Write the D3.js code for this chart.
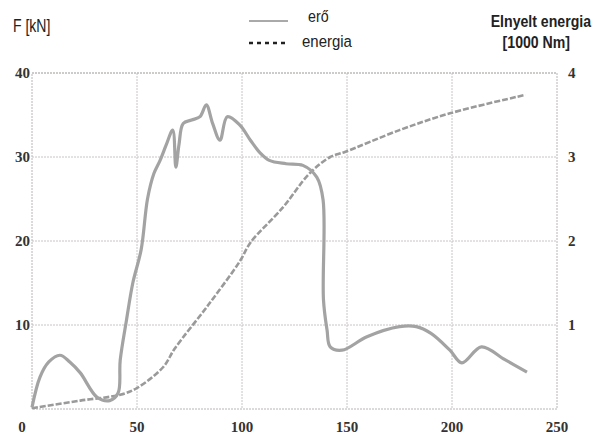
<!DOCTYPE html>
<html>
<head>
<meta charset="utf-8">
<script src="https://cdn.jsdelivr.net/npm/d3@7"></script>
<style>
  body { margin: 0; background: #fff; }
  svg { display: block; }
  .tick { font-family: "Liberation Serif", "DejaVu Serif", serif; font-weight: bold; font-size: 15px; fill: #333; }
  .lbl { font-family: "Liberation Sans", Arial, sans-serif; fill: #222; }
</style>
</head>
<body>
<svg id="chart" width="602" height="439"></svg>
<script>
// force curve (mm, F kN)
const forceX = [0, 3.8, 8, 13.3, 18, 23, 31, 37, 41, 42, 45, 48, 52, 55, 58, 61, 64, 67, 68.5, 70, 72, 76, 80, 83, 86, 89.5, 93, 99, 104, 108.6, 113, 121, 129, 135.6, 138.6, 138.8, 140.5, 142, 147.6, 159.5, 175, 183, 190, 199, 204.7, 214, 225, 235.7];
const forceY = [0.2, 3.8, 5.6, 6.4, 5.6, 4.3, 1.4, 1.0, 1.9, 5.8, 10.6, 15, 19, 25, 28, 29.6, 31.5, 33.2, 28.8, 31.5, 34, 34.4, 34.8, 36.2, 34, 32, 34.8, 33.8, 32, 30.5, 29.6, 29.2, 29, 27.6, 24.9, 13, 9.4, 7.4, 7, 8.6, 9.8, 9.8, 9, 7, 5.5, 7.4, 5.9, 4.4];

// energy curve (1000 Nm)
const energyX = [0, 23, 42, 50, 62.5, 68, 84, 99, 104, 119.5, 132, 142, 149, 175, 199, 235];
const energyY = [0.01, 0.1, 0.17, 0.25, 0.5, 0.72, 1.24, 1.76, 1.98, 2.4, 2.8, 3.0, 3.06, 3.32, 3.52, 3.74];

const xTicks = [0, 50, 100, 150, 200, 250];
const leftTicks = [10, 20, 30, 40];
const rightTicks = [1, 2, 3, 4];

const svg = d3.select("#chart");
const x = d3.scaleLinear().domain([0, 250]).range([32, 557]);
const yF = d3.scaleLinear().domain([0, 40]).range([409, 73]);
const yE = d3.scaleLinear().domain([0, 4]).range([409, 73]);

// grid
const grid = svg.append("g").attr("stroke", "#c8c4c4").attr("stroke-width", 1)
    .attr("stroke-dasharray", "2,1");
grid.selectAll("line.v")
    .data(xTicks.slice(1, -1))
    .join("line")
    .attr("x1", d => x(d)).attr("x2", d => x(d))
    .attr("y1", yF(40)).attr("y2", yF(0));
grid.selectAll("line.h")
    .data(leftTicks)
    .join("line")
    .attr("class", "h")
    .attr("x1", x(0)).attr("x2", x(250))
    .attr("y1", d => yF(d)).attr("y2", d => yF(d));

// frame
svg.append("rect")
    .attr("x", x(0)).attr("y", yF(40))
    .attr("width", x(250) - x(0)).attr("height", yF(0) - yF(40))
    .attr("fill", "none").attr("stroke", "#b8b4b4").attr("stroke-dasharray", "2,1");

// curves
const line = d3.line().curve(d3.curveCatmullRom.alpha(0.5));

svg.append("path")
    .attr("d", line(energyX.map((d, i) => [x(d), yE(energyY[i])])))
    .attr("fill", "none")
    .attr("stroke", "#9a9a9a")
    .attr("stroke-width", 2.6)
    .attr("stroke-dasharray", "6,2");

svg.append("path")
    .attr("d", line(forceX.map((d, i) => [x(d), yF(forceY[i])])))
    .attr("fill", "none")
    .attr("stroke", "#a3a3a3")
    .attr("stroke-width", 3.2)
    .attr("stroke-linejoin", "round");

// tick labels
svg.append("g").selectAll("text")
    .data(xTicks)
    .join("text")
    .attr("class", "tick")
    .attr("x", d => x(d)).attr("y", 432)
    .attr("dx", (d, i) => i === 0 ? -10 : 0)
    .attr("text-anchor", "middle")
    .text(d => d);

svg.append("g").selectAll("text")
    .data(leftTicks)
    .join("text")
    .attr("class", "tick")
    .attr("x", 30).attr("y", d => yF(d) + 5)
    .attr("text-anchor", "end")
    .text(d => d);

svg.append("g").selectAll("text")
    .data(rightTicks)
    .join("text")
    .attr("class", "tick")
    .attr("x", 568).attr("y", d => yE(d) + 5)
    .text(d => d);

// narrow-looking labels: squeeze horizontally
function label(tx, ty, sx, size, weight, anchor, txt) {
    svg.append("text")
        .attr("class", "lbl")
        .attr("transform", `translate(${tx},${ty}) scale(${sx},1)`)
        .attr("font-size", size)
        .attr("font-weight", weight)
        .attr("text-anchor", anchor)
        .text(txt);
}

label(13, 32, 0.78, 18, "normal", "start", "F [kN]");
label(591, 27, 0.83, 17, "bold", "end", "Elnyelt energia");
label(570, 48, 0.83, 17, "bold", "end", "[1000 Nm]");

// legend
svg.append("line")
    .attr("x1", 249).attr("x2", 288).attr("y1", 21).attr("y2", 21)
    .attr("stroke", "#555").attr("stroke-width", 1);
svg.append("line")
    .attr("x1", 249).attr("x2", 288).attr("y1", 43).attr("y2", 43)
    .attr("stroke", "#222").attr("stroke-width", 2.5)
    .attr("stroke-dasharray", "4,4");
label(308, 22, 0.84, 17, "normal", "start", "erő");
label(302, 47, 0.88, 17, "normal", "start", "energia");
</script>
</body>
</html>
